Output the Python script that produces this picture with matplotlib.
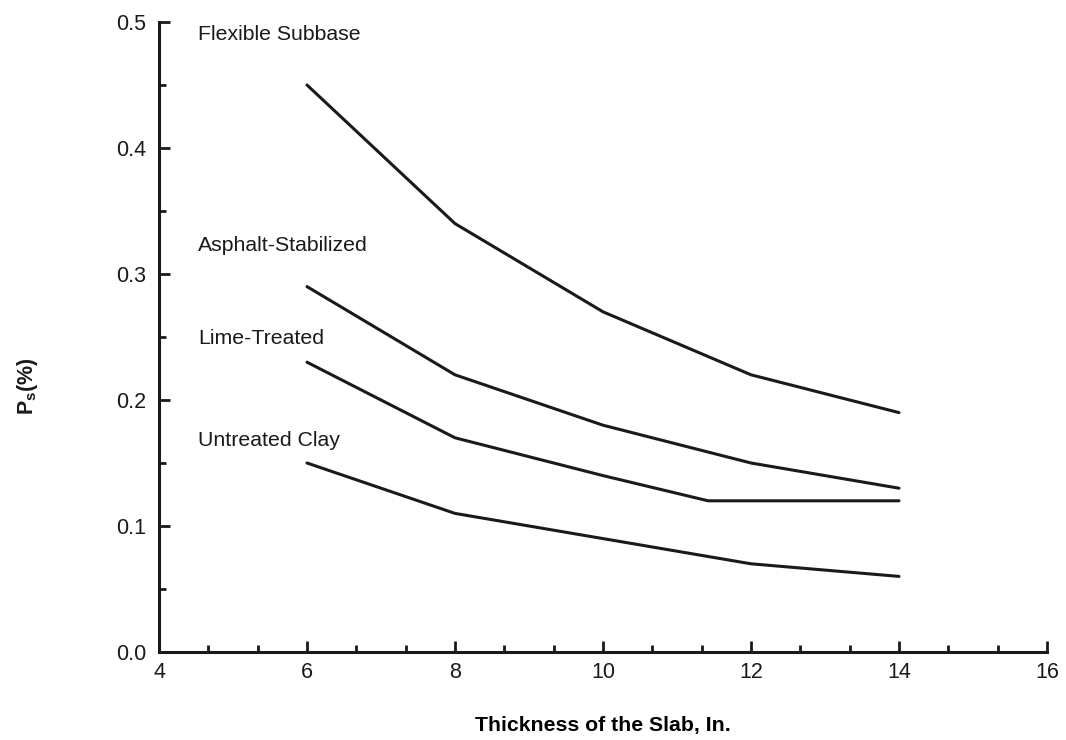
import matplotlib
matplotlib.use('Agg')
import matplotlib.pyplot as plt
from matplotlib.ticker import MultipleLocator

# Data
thickness = [6, 8, 10, 12, 14]
flexible = [0.45, 0.34, 0.27, 0.22, 0.19]
asphalt = [0.29, 0.22, 0.18, 0.15, 0.13]
lime_x = [6, 8, 10, 11.42, 14]
lime = [0.23, 0.17, 0.14, 0.12, 0.12]
untreated = [0.15, 0.11, 0.09, 0.07, 0.06]

labels = ['Flexible Subbase', 'Asphalt-Stabilized', 'Lime-Treated', 'Untreated Clay']
label_y = [0.49, 0.323, 0.249, 0.168]

plt.rcParams['font.family'] = ['Liberation Sans', 'DejaVu Sans']
plt.rcParams['mathtext.fontset'] = 'custom'
plt.rcParams['mathtext.bf'] = 'Liberation Sans:bold'
plt.rcParams['mathtext.rm'] = 'Liberation Sans'

fig = plt.figure(figsize=(10.66, 7.4), dpi=100)
ax = fig.add_axes([159 / 1066, 1 - 652 / 740, (1047 - 159) / 1066, (652 - 22) / 740])

for xs, ys in [(thickness, flexible), (thickness, asphalt), (lime_x, lime), (thickness, untreated)]:
    ax.plot(xs, ys, color='#1a1a1a', lw=2.2, solid_capstyle='round')

for text, y in zip(labels, label_y):
    ax.text(4.53, y, text, fontsize=15.3, va='center', ha='left', color='#1a1a1a')

ax.set_xlim(4, 16)
ax.set_ylim(0, 0.5)
ax.xaxis.set_major_locator(MultipleLocator(2))
ax.xaxis.set_minor_locator(MultipleLocator(2 / 3))
ax.yaxis.set_major_locator(MultipleLocator(0.1))
ax.yaxis.set_minor_locator(MultipleLocator(0.05))
ax.xaxis.set_major_formatter(plt.FuncFormatter(lambda v, p: f'{v:.0f}'))
ax.yaxis.set_major_formatter(plt.FuncFormatter(lambda v, p: f'{v:.1f}'))

ax.tick_params(which='major', direction='in', length=8, width=2, labelsize=15.5, colors='#1a1a1a', pad=7)
ax.tick_params(which='minor', direction='in', length=5, width=2, colors='#1a1a1a')
ax.tick_params(axis='y', which='both', pad=9)

for side in ['top', 'right']:
    ax.spines[side].set_visible(False)
for side in ['left', 'bottom']:
    ax.spines[side].set_linewidth(2.2)
    ax.spines[side].set_color('#1a1a1a')

ax.set_xlabel('Thickness of the Slab, In.', fontsize=15.3, fontweight='bold', labelpad=24)
fig.text(27 / 1066, 1 - 386 / 740, r'$\mathbf{P_s}$(%)', rotation=90, fontsize=15.5,
         fontweight='bold', ha='center', va='center', color='#1a1a1a')

fig.savefig('out.png', dpi=100)
